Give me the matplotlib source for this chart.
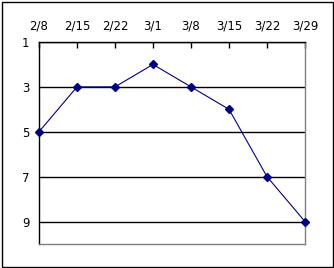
import matplotlib
matplotlib.use('Agg')
import matplotlib.pyplot as plt
from matplotlib.patches import Rectangle

# weekly dates and ranking
dates = ['2/8', '2/15', '2/22', '3/1', '3/8', '3/15', '3/22', '3/29']
ranks = [5, 3, 3, 2, 3, 4, 7, 9]
yticks = [1, 3, 5, 7, 9]

plt.rcParams['font.family'] = ['Liberation Sans Narrow', 'DejaVu Sans']

fig = plt.figure(figsize=(3.34, 2.68), dpi=100)
fig.patch.set_facecolor('white')
fig.add_artist(Rectangle((1.5 / 334, 1.5 / 268), 331 / 334, 265 / 268,
                         transform=fig.transFigure, fill=False,
                         edgecolor='black', linewidth=1.0))

ax = fig.add_axes([39 / 334, 24 / 268, 266 / 334, 202 / 268])
x = list(range(len(dates)))

for y in yticks:
    ax.axhline(y, color='black', linewidth=1.0, zorder=1)

ax.plot(x, ranks, color='#000080', linewidth=0.8, marker='D', markersize=4,
        markerfacecolor='#000080', markeredgecolor='#000080',
        clip_on=False, zorder=3)

ax.set_xlim(0, len(dates) - 1)
ax.set_ylim(10, 1)
ax.set_yticks(yticks)
ax.set_yticklabels([str(v) for v in yticks], fontsize=8.5)
ax.set_xticks(x)
ax.set_xticklabels(dates, fontsize=8.5)
ax.xaxis.tick_top()
ax.tick_params(axis='x', direction='in', length=4, width=1, pad=6.5, color='black')
ax.tick_params(axis='y', length=0, pad=7)

ax.spines['top'].set_color('black')
ax.spines['left'].set_color('black')
ax.spines['right'].set_color('#808080')
ax.spines['bottom'].set_color('#808080')
for s in ax.spines.values():
    s.set_linewidth(1.0)

fig.savefig('out.png', dpi=100)
